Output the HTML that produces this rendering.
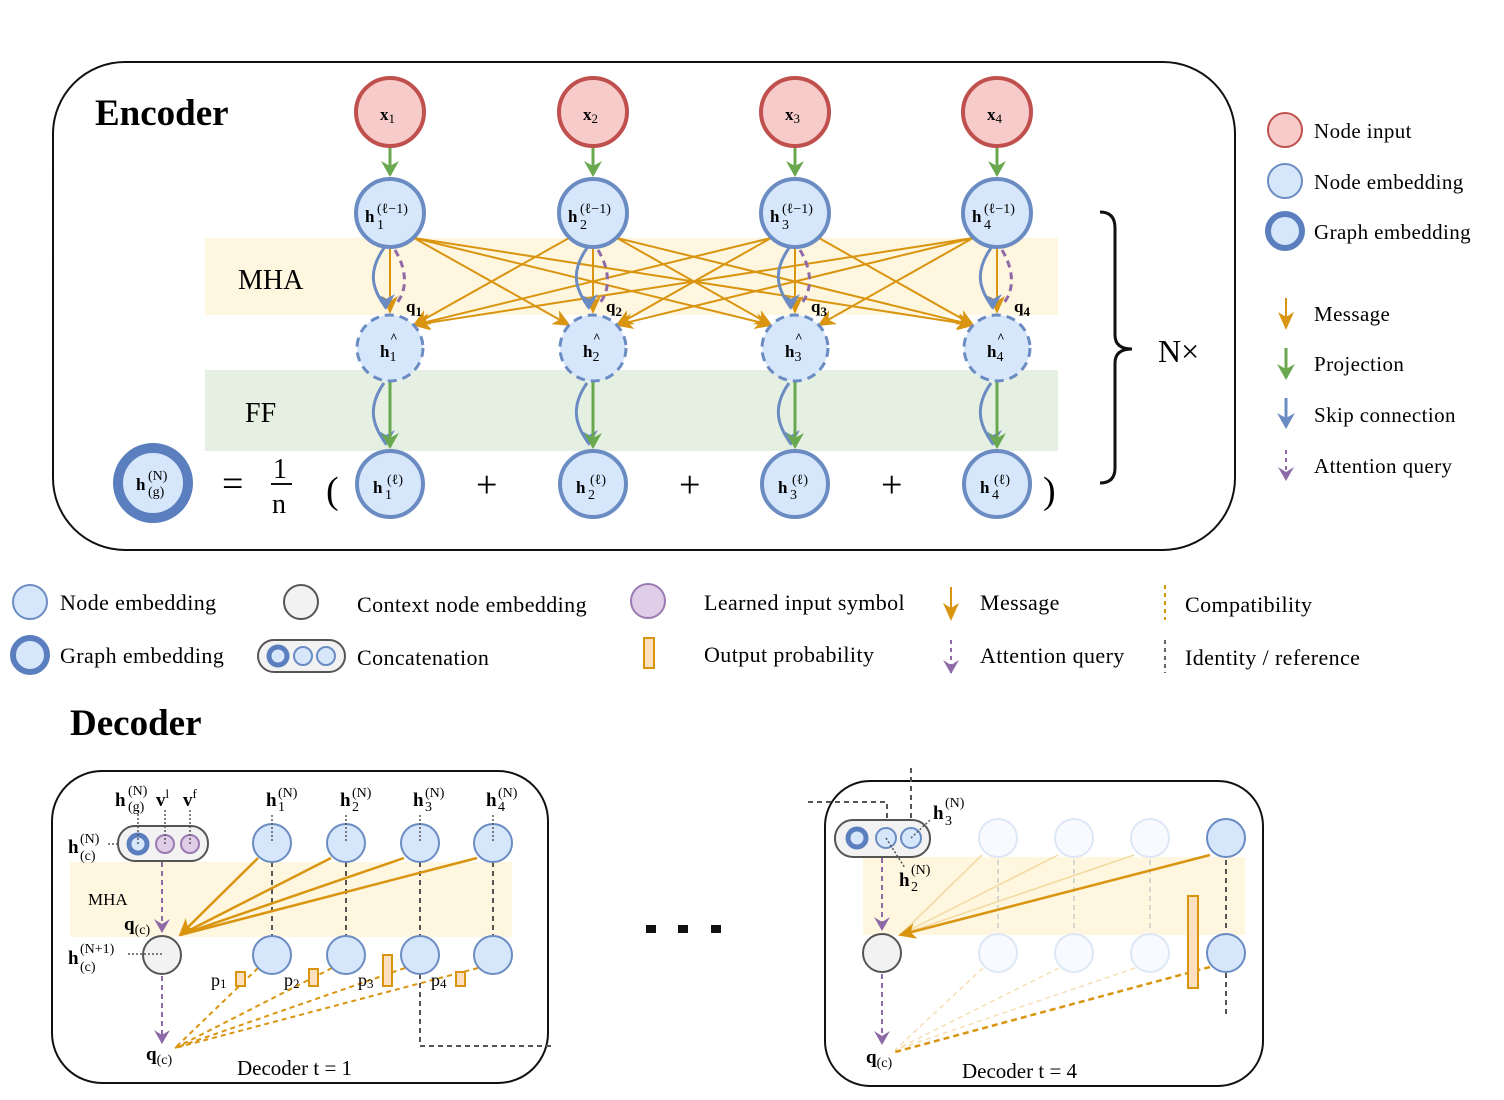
<!DOCTYPE html><html><head><meta charset="utf-8"><style>body{margin:0;background:#fff}svg{display:block;font-family:"Liberation Serif",serif}</style></head><body>
<svg width="1504" height="1100" viewBox="0 0 1504 1100" xmlns="http://www.w3.org/2000/svg">
<defs>
<marker id="mo" markerWidth="10" markerHeight="10" refX="8" refY="5" orient="auto" markerUnits="userSpaceOnUse"><path d="M0,0 L10,5 L0,10 L3,5z" fill="#d9950f"/></marker>
<marker id="mo2" markerWidth="20" markerHeight="16" refX="16" refY="8" orient="auto" markerUnits="userSpaceOnUse"><path d="M0,0 L18,8 L0,16 L5,8z" fill="#d9950f"/></marker>
<marker id="mg" markerWidth="18" markerHeight="16" refX="9" refY="14" markerUnits="userSpaceOnUse" viewBox="0 0 18 16"><path d="M0,0 L9,16 L18,0 L9,5z" fill="#6aa84f"/></marker>
<marker id="mp" markerWidth="16" markerHeight="14" refX="8" refY="13" markerUnits="userSpaceOnUse"><path d="M0,0 L8,14 L16,0 L8,5z" fill="#8e6aa8"/></marker>
<marker id="mb" markerWidth="18" markerHeight="16" refX="9" refY="14" markerUnits="userSpaceOnUse"><path d="M0,0 L9,16 L18,0 L9,5z" fill="#6b8cc2"/></marker>
</defs>
<!-- Encoder -->
<rect x="53" y="62" width="1182" height="488" rx="72" fill="#fff" stroke="#111" stroke-width="2"/>
<text x="95" y="125" font-size="37" font-weight="bold">Encoder</text>
<rect x="205" y="238" width="853" height="77" fill="#fff6e0"/>
<rect x="205" y="370" width="853" height="81" fill="#e6f0e2"/>
<text x="238" y="289" font-size="28">MHA</text>
<text x="245" y="422" font-size="28">FF</text>
<g stroke="#d9950f" stroke-width="2" fill="none" marker-end="url(#mo2)">
<line x1="414" y1="238" x2="569" y2="325"/><line x1="414" y1="238" x2="771" y2="325"/><line x1="414" y1="238" x2="973" y2="325"/>
<line x1="569" y1="238" x2="414" y2="325"/><line x1="617" y1="238" x2="771" y2="325"/><line x1="617" y1="238" x2="973" y2="325"/>
<line x1="771" y1="238" x2="414" y2="325"/><line x1="771" y1="238" x2="617" y2="325"/><line x1="819" y1="238" x2="973" y2="325"/>
<line x1="973" y1="238" x2="414" y2="325"/><line x1="973" y1="238" x2="617" y2="325"/><line x1="973" y1="238" x2="819" y2="325"/>
<line x1="390" y1="247" x2="390" y2="312"/><line x1="593" y1="247" x2="593" y2="312"/><line x1="795" y1="247" x2="795" y2="312"/><line x1="997" y1="247" x2="997" y2="312"/>
</g>
<g font-size="17" font-weight="bold">
<g transform="translate(390,0)">
<path d="M-6,248 C-25,275 -15,292 -4,308" stroke="#6b8cc2" stroke-width="3" fill="none" marker-end="url(#mb)"/>
<path d="M5,250 C20,275 15,295 5,305" stroke="#8e6aa8" stroke-width="3" stroke-dasharray="7,5" fill="none"/>
<path d="M-6,383 C-25,410 -15,428 -4,444" stroke="#6b8cc2" stroke-width="3" fill="none" marker-end="url(#mb)"/>
</g>
<g transform="translate(593,0)">
<path d="M-6,248 C-25,275 -15,292 -4,308" stroke="#6b8cc2" stroke-width="3" fill="none" marker-end="url(#mb)"/>
<path d="M5,250 C20,275 15,295 5,305" stroke="#8e6aa8" stroke-width="3" stroke-dasharray="7,5" fill="none"/>
<path d="M-6,383 C-25,410 -15,428 -4,444" stroke="#6b8cc2" stroke-width="3" fill="none" marker-end="url(#mb)"/>
</g>
<g transform="translate(795,0)">
<path d="M-6,248 C-25,275 -15,292 -4,308" stroke="#6b8cc2" stroke-width="3" fill="none" marker-end="url(#mb)"/>
<path d="M5,250 C20,275 15,295 5,305" stroke="#8e6aa8" stroke-width="3" stroke-dasharray="7,5" fill="none"/>
<path d="M-6,383 C-25,410 -15,428 -4,444" stroke="#6b8cc2" stroke-width="3" fill="none" marker-end="url(#mb)"/>
</g>
<g transform="translate(997,0)">
<path d="M-6,248 C-25,275 -15,292 -4,308" stroke="#6b8cc2" stroke-width="3" fill="none" marker-end="url(#mb)"/>
<path d="M5,250 C20,275 15,295 5,305" stroke="#8e6aa8" stroke-width="3" stroke-dasharray="7,5" fill="none"/>
<path d="M-6,383 C-25,410 -15,428 -4,444" stroke="#6b8cc2" stroke-width="3" fill="none" marker-end="url(#mb)"/>
</g>
</g>
<g stroke="#6aa84f" stroke-width="3" marker-end="url(#mg)">
<line x1="390" y1="147" x2="390" y2="175"/><line x1="593" y1="147" x2="593" y2="175"/><line x1="795" y1="147" x2="795" y2="175"/><line x1="997" y1="147" x2="997" y2="175"/>
<line x1="390" y1="382" x2="390" y2="447"/><line x1="593" y1="382" x2="593" y2="447"/><line x1="795" y1="382" x2="795" y2="447"/><line x1="997" y1="382" x2="997" y2="447"/>
</g>
<g fill="#f8cbcb" stroke="#c0504d" stroke-width="4">
<circle cx="390" cy="112" r="34"/><circle cx="593" cy="112" r="34"/><circle cx="795" cy="112" r="34"/><circle cx="997" cy="112" r="34"/></g>
<g fill="#d6e6fb" stroke="#6b8cc2" stroke-width="4">
<circle cx="390" cy="213" r="34"/><circle cx="593" cy="213" r="34"/><circle cx="795" cy="213" r="34"/><circle cx="997" cy="213" r="34"/>
<circle cx="390" cy="484" r="33"/><circle cx="593" cy="484" r="33"/><circle cx="795" cy="484" r="33"/><circle cx="997" cy="484" r="33"/>
</g>
<g fill="#d6e6fb" stroke="#6b8cc2" stroke-width="3" stroke-dasharray="9,6">
<circle cx="390" cy="348" r="33"/><circle cx="593" cy="348" r="33"/><circle cx="795" cy="348" r="33"/><circle cx="997" cy="348" r="33"/></g>
<circle cx="153" cy="483" r="35" fill="#d6e6fb" stroke="#5b7fbe" stroke-width="10"/>
<g font-size="17" font-weight="bold">
<text x="380" y="120">x<tspan font-size="13" font-weight="normal" dy="3">1</tspan></text>
<text x="583" y="120">x<tspan font-size="13" font-weight="normal" dy="3">2</tspan></text>
<text x="785" y="120">x<tspan font-size="13" font-weight="normal" dy="3">3</tspan></text>
<text x="987" y="120">x<tspan font-size="13" font-weight="normal" dy="3">4</tspan></text>
<text x="365" y="222">h</text><text x="377" y="229" font-size="14" font-weight="normal">1</text><text x="377" y="213" font-size="14" font-weight="normal">(ℓ−1)</text>
<text x="568" y="222">h</text><text x="580" y="229" font-size="14" font-weight="normal">2</text><text x="580" y="213" font-size="14" font-weight="normal">(ℓ−1)</text>
<text x="770" y="222">h</text><text x="782" y="229" font-size="14" font-weight="normal">3</text><text x="782" y="213" font-size="14" font-weight="normal">(ℓ−1)</text>
<text x="972" y="222">h</text><text x="984" y="229" font-size="14" font-weight="normal">4</text><text x="984" y="213" font-size="14" font-weight="normal">(ℓ−1)</text>
<text x="380" y="357">h<tspan font-size="14" font-weight="normal" dy="4">1</tspan></text><text x="390" y="342" font-size="13">^</text>
<text x="583" y="357">h<tspan font-size="14" font-weight="normal" dy="4">2</tspan></text><text x="593" y="342" font-size="13">^</text>
<text x="785" y="357">h<tspan font-size="14" font-weight="normal" dy="4">3</tspan></text><text x="795" y="342" font-size="13">^</text>
<text x="987" y="357">h<tspan font-size="14" font-weight="normal" dy="4">4</tspan></text><text x="997" y="342" font-size="13">^</text>
<text x="373" y="493">h</text><text x="385" y="499" font-size="14" font-weight="normal">1</text><text x="387" y="484" font-size="14" font-weight="normal">(ℓ)</text>
<text x="576" y="493">h</text><text x="588" y="499" font-size="14" font-weight="normal">2</text><text x="590" y="484" font-size="14" font-weight="normal">(ℓ)</text>
<text x="778" y="493">h</text><text x="790" y="499" font-size="14" font-weight="normal">3</text><text x="792" y="484" font-size="14" font-weight="normal">(ℓ)</text>
<text x="980" y="493">h</text><text x="992" y="499" font-size="14" font-weight="normal">4</text><text x="994" y="484" font-size="14" font-weight="normal">(ℓ)</text>
<text x="136" y="490">h</text><text x="148" y="480" font-size="14" font-weight="normal">(N)</text><text x="148" y="496" font-size="14" font-weight="normal">(g)</text>
<text x="406" y="312">q<tspan font-size="13" dy="4">1</tspan></text>
<text x="606" y="312">q<tspan font-size="13" dy="4">2</tspan></text>
<text x="811" y="312">q<tspan font-size="13" dy="4">3</tspan></text>
<text x="1014" y="312">q<tspan font-size="13" dy="4">4</tspan></text>
</g>
<g font-size="38"><text x="222" y="496">=</text><text x="326" y="503">(</text><text x="1043" y="503">)</text>
<text x="476" y="497">+</text><text x="679" y="497">+</text><text x="881" y="497">+</text></g>
<text x="273" y="478" font-size="28">1</text><line x1="271" y1="484" x2="292" y2="484" stroke="#111" stroke-width="2"/><text x="272" y="513" font-size="28">n</text>
<path d="M1100,212 Q1115,212 1115,228 L1115,335 Q1115,349 1132,349 Q1115,349 1115,363 L1115,468 Q1115,483 1100,483" stroke="#111" stroke-width="3" fill="none"/>
<text x="1158" y="362" font-size="32">N×</text>
<!-- right legend -->
<circle cx="1285" cy="130" r="17" fill="#f8cbcb" stroke="#c0504d" stroke-width="2"/>
<circle cx="1285" cy="181" r="17" fill="#d6e6fb" stroke="#6b8cc2" stroke-width="2"/>
<circle cx="1285" cy="231" r="17" fill="#d6e6fb" stroke="#5b7fbe" stroke-width="6"/>
<g font-size="21" letter-spacing="0.4"><text x="1314" y="138">Node input</text><text x="1314" y="189">Node embedding</text><text x="1314" y="239">Graph embedding</text>
<text x="1314" y="321">Message</text><text x="1314" y="371">Projection</text><text x="1314" y="422">Skip connection</text><text x="1314" y="473">Attention query</text></g>
<line x1="1286" y1="298" x2="1286" y2="328" stroke="#d9950f" stroke-width="2" marker-end="url(#mo2)"/>
<line x1="1286" y1="348" x2="1286" y2="378" stroke="#6aa84f" stroke-width="3" marker-end="url(#mg)"/>
<line x1="1286" y1="398" x2="1286" y2="427" stroke="#6b8cc2" stroke-width="3" marker-end="url(#mb)"/>
<line x1="1286" y1="450" x2="1286" y2="480" stroke="#8e6aa8" stroke-width="2" stroke-dasharray="4,4" marker-end="url(#mp)"/>
<!-- middle legend -->
<circle cx="30" cy="602" r="17" fill="#d6e6fb" stroke="#6b8cc2" stroke-width="2"/>
<circle cx="30" cy="655" r="17" fill="#d6e6fb" stroke="#5b7fbe" stroke-width="6"/>
<circle cx="301" cy="602" r="17" fill="#f2f2f2" stroke="#555" stroke-width="2"/>
<rect x="258" y="640" width="87" height="32" rx="16" fill="#f2f2f2" stroke="#555" stroke-width="2"/>
<circle cx="278" cy="656" r="9" fill="#d6e6fb" stroke="#5b7fbe" stroke-width="5"/><circle cx="303" cy="656" r="9" fill="#d6e6fb" stroke="#6b8cc2" stroke-width="2"/><circle cx="326" cy="656" r="9" fill="#d6e6fb" stroke="#6b8cc2" stroke-width="2"/>
<circle cx="648" cy="601" r="17" fill="#e0cde8" stroke="#9a7ab0" stroke-width="2"/>
<rect x="644" y="638" width="10" height="30" fill="#fde0c0" stroke="#d9950f" stroke-width="2"/>
<line x1="951" y1="587" x2="951" y2="619" stroke="#d9950f" stroke-width="2" marker-end="url(#mo2)"/>
<line x1="951" y1="640" x2="951" y2="673" stroke="#8e6aa8" stroke-width="2" stroke-dasharray="4,4" marker-end="url(#mp)"/>
<line x1="1165" y1="585" x2="1165" y2="620" stroke="#d9950f" stroke-width="2" stroke-dasharray="4,4"/>
<line x1="1165" y1="640" x2="1165" y2="673" stroke="#666" stroke-width="2" stroke-dasharray="4,4"/>
<g font-size="22" letter-spacing="0.4"><text x="60" y="610">Node embedding</text><text x="60" y="663">Graph embedding</text><text x="357" y="612">Context node embedding</text><text x="357" y="665">Concatenation</text>
<text x="704" y="610">Learned input symbol</text><text x="704" y="662">Output probability</text><text x="980" y="610">Message</text><text x="980" y="663">Attention query</text>
<text x="1185" y="612">Compatibility</text><text x="1185" y="665">Identity / reference</text></g>
<text x="70" y="735" font-size="37" font-weight="bold">Decoder</text>
<!-- Decoder 1 -->
<rect x="52" y="771" width="496" height="312" rx="50" fill="#fff" stroke="#111" stroke-width="2"/>
<rect x="70" y="862" width="442" height="75" fill="#fff6e0"/>
<text x="88" y="905" font-size="17">MHA</text>
<g stroke="#555" stroke-width="2" stroke-dasharray="5,4">
<line x1="272" y1="862" x2="272" y2="937"/><line x1="346" y1="862" x2="346" y2="937"/><line x1="420" y1="862" x2="420" y2="937"/><line x1="493" y1="862" x2="493" y2="937"/>
<path d="M420,974 L420,1046 L555,1046" fill="none"/></g>
<g stroke="#d9950f" stroke-width="2.5" fill="none">
<line x1="258" y1="858" x2="180" y2="935" marker-end="url(#mo2)"/><line x1="331" y1="858" x2="180" y2="935"/><line x1="404" y1="858" x2="180" y2="935"/><line x1="477" y1="858" x2="180" y2="935"/></g>
<g stroke="#d9950f" stroke-width="2" stroke-dasharray="5,4" fill="none">
<line x1="258" y1="968" x2="175" y2="1048"/><line x1="332" y1="968" x2="175" y2="1048"/><line x1="405" y1="968" x2="175" y2="1048"/><line x1="478" y1="968" x2="175" y2="1048"/></g>
<g fill="#d6e6fb" stroke="#6b8cc2" stroke-width="2">
<circle cx="272" cy="843" r="19"/><circle cx="346" cy="843" r="19"/><circle cx="420" cy="843" r="19"/><circle cx="493" cy="843" r="19"/>
<circle cx="272" cy="955" r="19"/><circle cx="346" cy="955" r="19"/><circle cx="420" cy="955" r="19"/><circle cx="493" cy="955" r="19"/></g>
<rect x="118" y="826" width="90" height="35" rx="17" fill="#f2f2f2" stroke="#555" stroke-width="2"/>
<circle cx="138" cy="844" r="9" fill="#d6e6fb" stroke="#5b7fbe" stroke-width="5"/>
<circle cx="165" cy="844" r="9" fill="#e0cde8" stroke="#9a7ab0" stroke-width="2"/><circle cx="190" cy="844" r="9" fill="#e0cde8" stroke="#9a7ab0" stroke-width="2"/>
<circle cx="162" cy="955" r="19" fill="#f2f2f2" stroke="#555" stroke-width="2"/>
<g stroke="#555" stroke-width="1.5" stroke-dasharray="2,2"><line x1="138" y1="810" x2="138" y2="844"/><line x1="165" y1="810" x2="165" y2="844"/><line x1="190" y1="810" x2="190" y2="844"/>
<line x1="272" y1="815" x2="272" y2="843"/><line x1="346" y1="815" x2="346" y2="843"/><line x1="420" y1="815" x2="420" y2="843"/><line x1="493" y1="815" x2="493" y2="843"/><line x1="128" y1="954" x2="162" y2="954"/><line x1="108" y1="844" x2="118" y2="844"/></g>
<g stroke="#8e6aa8" stroke-width="2" stroke-dasharray="5,4"><line x1="162" y1="862" x2="162" y2="932" marker-end="url(#mp)"/><line x1="162" y1="976" x2="162" y2="1043" marker-end="url(#mp)"/></g>
<g fill="#fde0c0" stroke="#d9950f" stroke-width="2"><rect x="236" y="972" width="9" height="14"/><rect x="309" y="969" width="9" height="17"/><rect x="383" y="955" width="9" height="31"/><rect x="456" y="972" width="9" height="14"/></g>
<g font-size="18"><text x="211" y="986">p<tspan font-size="13" dy="2">1</tspan></text><text x="284" y="986">p<tspan font-size="13" dy="2">2</tspan></text><text x="358" y="986">p<tspan font-size="13" dy="2">3</tspan></text><text x="431" y="986">p<tspan font-size="13" dy="2">4</tspan></text>
<text x="237" y="1075" font-size="21">Decoder t = 1</text></g>
<g font-size="19" font-weight="bold">
<text x="115" y="806">h</text><text x="128" y="795" font-size="14" font-weight="normal">(N)</text><text x="128" y="811" font-size="14" font-weight="normal">(g)</text>
<text x="156" y="806">v<tspan font-size="13" font-weight="normal" dy="-8">l</tspan></text><text x="183" y="806">v<tspan font-size="13" font-weight="normal" dy="-8">f</tspan></text>
<text x="266" y="806">h</text><text x="278" y="797" font-size="14" font-weight="normal">(N)</text><text x="278" y="811" font-size="14" font-weight="normal">1</text>
<text x="340" y="806">h</text><text x="352" y="797" font-size="14" font-weight="normal">(N)</text><text x="352" y="811" font-size="14" font-weight="normal">2</text>
<text x="413" y="806">h</text><text x="425" y="797" font-size="14" font-weight="normal">(N)</text><text x="425" y="811" font-size="14" font-weight="normal">3</text>
<text x="486" y="806">h</text><text x="498" y="797" font-size="14" font-weight="normal">(N)</text><text x="498" y="811" font-size="14" font-weight="normal">4</text>
<text x="68" y="853">h</text><text x="80" y="843" font-size="14" font-weight="normal">(N)</text><text x="80" y="860" font-size="14" font-weight="normal">(c)</text>
<text x="68" y="964">h</text><text x="80" y="953" font-size="14" font-weight="normal">(N+1)</text><text x="80" y="971" font-size="14" font-weight="normal">(c)</text>
<text x="124" y="930">q<tspan font-size="14" font-weight="normal" dy="4">(c)</tspan></text>
<text x="146" y="1060">q<tspan font-size="14" font-weight="normal" dy="4">(c)</tspan></text></g>
<g fill="#111"><rect x="646" y="925" width="10" height="8"/><rect x="678" y="925" width="10" height="8"/><rect x="711" y="925" width="10" height="8"/></g>
<!-- Decoder 4 -->
<rect x="825" y="781" width="438" height="305" rx="45" fill="#fff" stroke="#111" stroke-width="2"/>
<rect x="863" y="857" width="382" height="78" fill="#fff6e0"/>
<g stroke="#555" stroke-width="2" stroke-dasharray="5,4" fill="none"><path d="M808,802 L887,802 L887,820"/><line x1="911" y1="768" x2="911" y2="820"/><line x1="1226" y1="860" x2="1226" y2="932"/><line x1="1226" y1="973" x2="1226" y2="1015"/></g>
<g stroke="#ccc" stroke-width="1.5" stroke-dasharray="5,4"><line x1="998" y1="860" x2="998" y2="932"/><line x1="1074" y1="860" x2="1074" y2="932"/><line x1="1150" y1="860" x2="1150" y2="932"/></g>
<g stroke="#f2d9a0" stroke-width="1.5" fill="none"><line x1="982" y1="855" x2="900" y2="935"/><line x1="1058" y1="855" x2="900" y2="935"/><line x1="1134" y1="855" x2="900" y2="935"/></g>
<g stroke="#f5dfb5" stroke-width="1.5" stroke-dasharray="5,4"><line x1="983" y1="968" x2="895" y2="1050"/><line x1="1059" y1="968" x2="895" y2="1050"/><line x1="1135" y1="968" x2="895" y2="1050"/></g>
<line x1="1210" y1="855" x2="900" y2="935" stroke="#d9950f" stroke-width="2.5" marker-end="url(#mo2)"/>
<line x1="1210" y1="967" x2="895" y2="1052" stroke="#d9950f" stroke-width="2.5" stroke-dasharray="6,4"/>
<g fill="#f7fafe" stroke="#dde7f5" stroke-width="2"><circle cx="998" cy="838" r="19"/><circle cx="1074" cy="838" r="19"/><circle cx="1150" cy="838" r="19"/><circle cx="998" cy="953" r="19"/><circle cx="1074" cy="953" r="19"/><circle cx="1150" cy="953" r="19"/></g>
<g fill="#d6e6fb" stroke="#6b8cc2" stroke-width="2"><circle cx="1226" cy="838" r="19"/><circle cx="1226" cy="953" r="19"/></g>
<rect x="1188" y="896" width="10" height="92" fill="#fde0c0" stroke="#d9950f" stroke-width="2"/>
<rect x="835" y="820" width="95" height="37" rx="18" fill="#f2f2f2" stroke="#555" stroke-width="2"/>
<circle cx="857" cy="838" r="9" fill="#d6e6fb" stroke="#5b7fbe" stroke-width="5"/><circle cx="886" cy="838" r="10" fill="#d6e6fb" stroke="#6b8cc2" stroke-width="2"/><circle cx="911" cy="838" r="10" fill="#d6e6fb" stroke="#6b8cc2" stroke-width="2"/>
<g stroke="#555" stroke-width="1.5" stroke-dasharray="2,2"><line x1="911" y1="838" x2="930" y2="820"/><line x1="886" y1="838" x2="905" y2="868"/></g>
<circle cx="882" cy="953" r="19" fill="#f2f2f2" stroke="#555" stroke-width="2"/>
<g stroke="#8e6aa8" stroke-width="2" stroke-dasharray="5,4"><line x1="882" y1="858" x2="882" y2="930" marker-end="url(#mp)"/><line x1="882" y1="974" x2="882" y2="1044" marker-end="url(#mp)"/></g>
<g font-size="19" font-weight="bold">
<text x="933" y="819">h</text><text x="945" y="807" font-size="14" font-weight="normal">(N)</text><text x="945" y="825" font-size="14" font-weight="normal">3</text>
<text x="899" y="886">h</text><text x="911" y="874" font-size="14" font-weight="normal">(N)</text><text x="911" y="891" font-size="14" font-weight="normal">2</text>
<text x="866" y="1063">q<tspan font-size="14" font-weight="normal" dy="4">(c)</tspan></text></g>
<text x="962" y="1078" font-size="21">Decoder t = 4</text>
</svg></body></html>
